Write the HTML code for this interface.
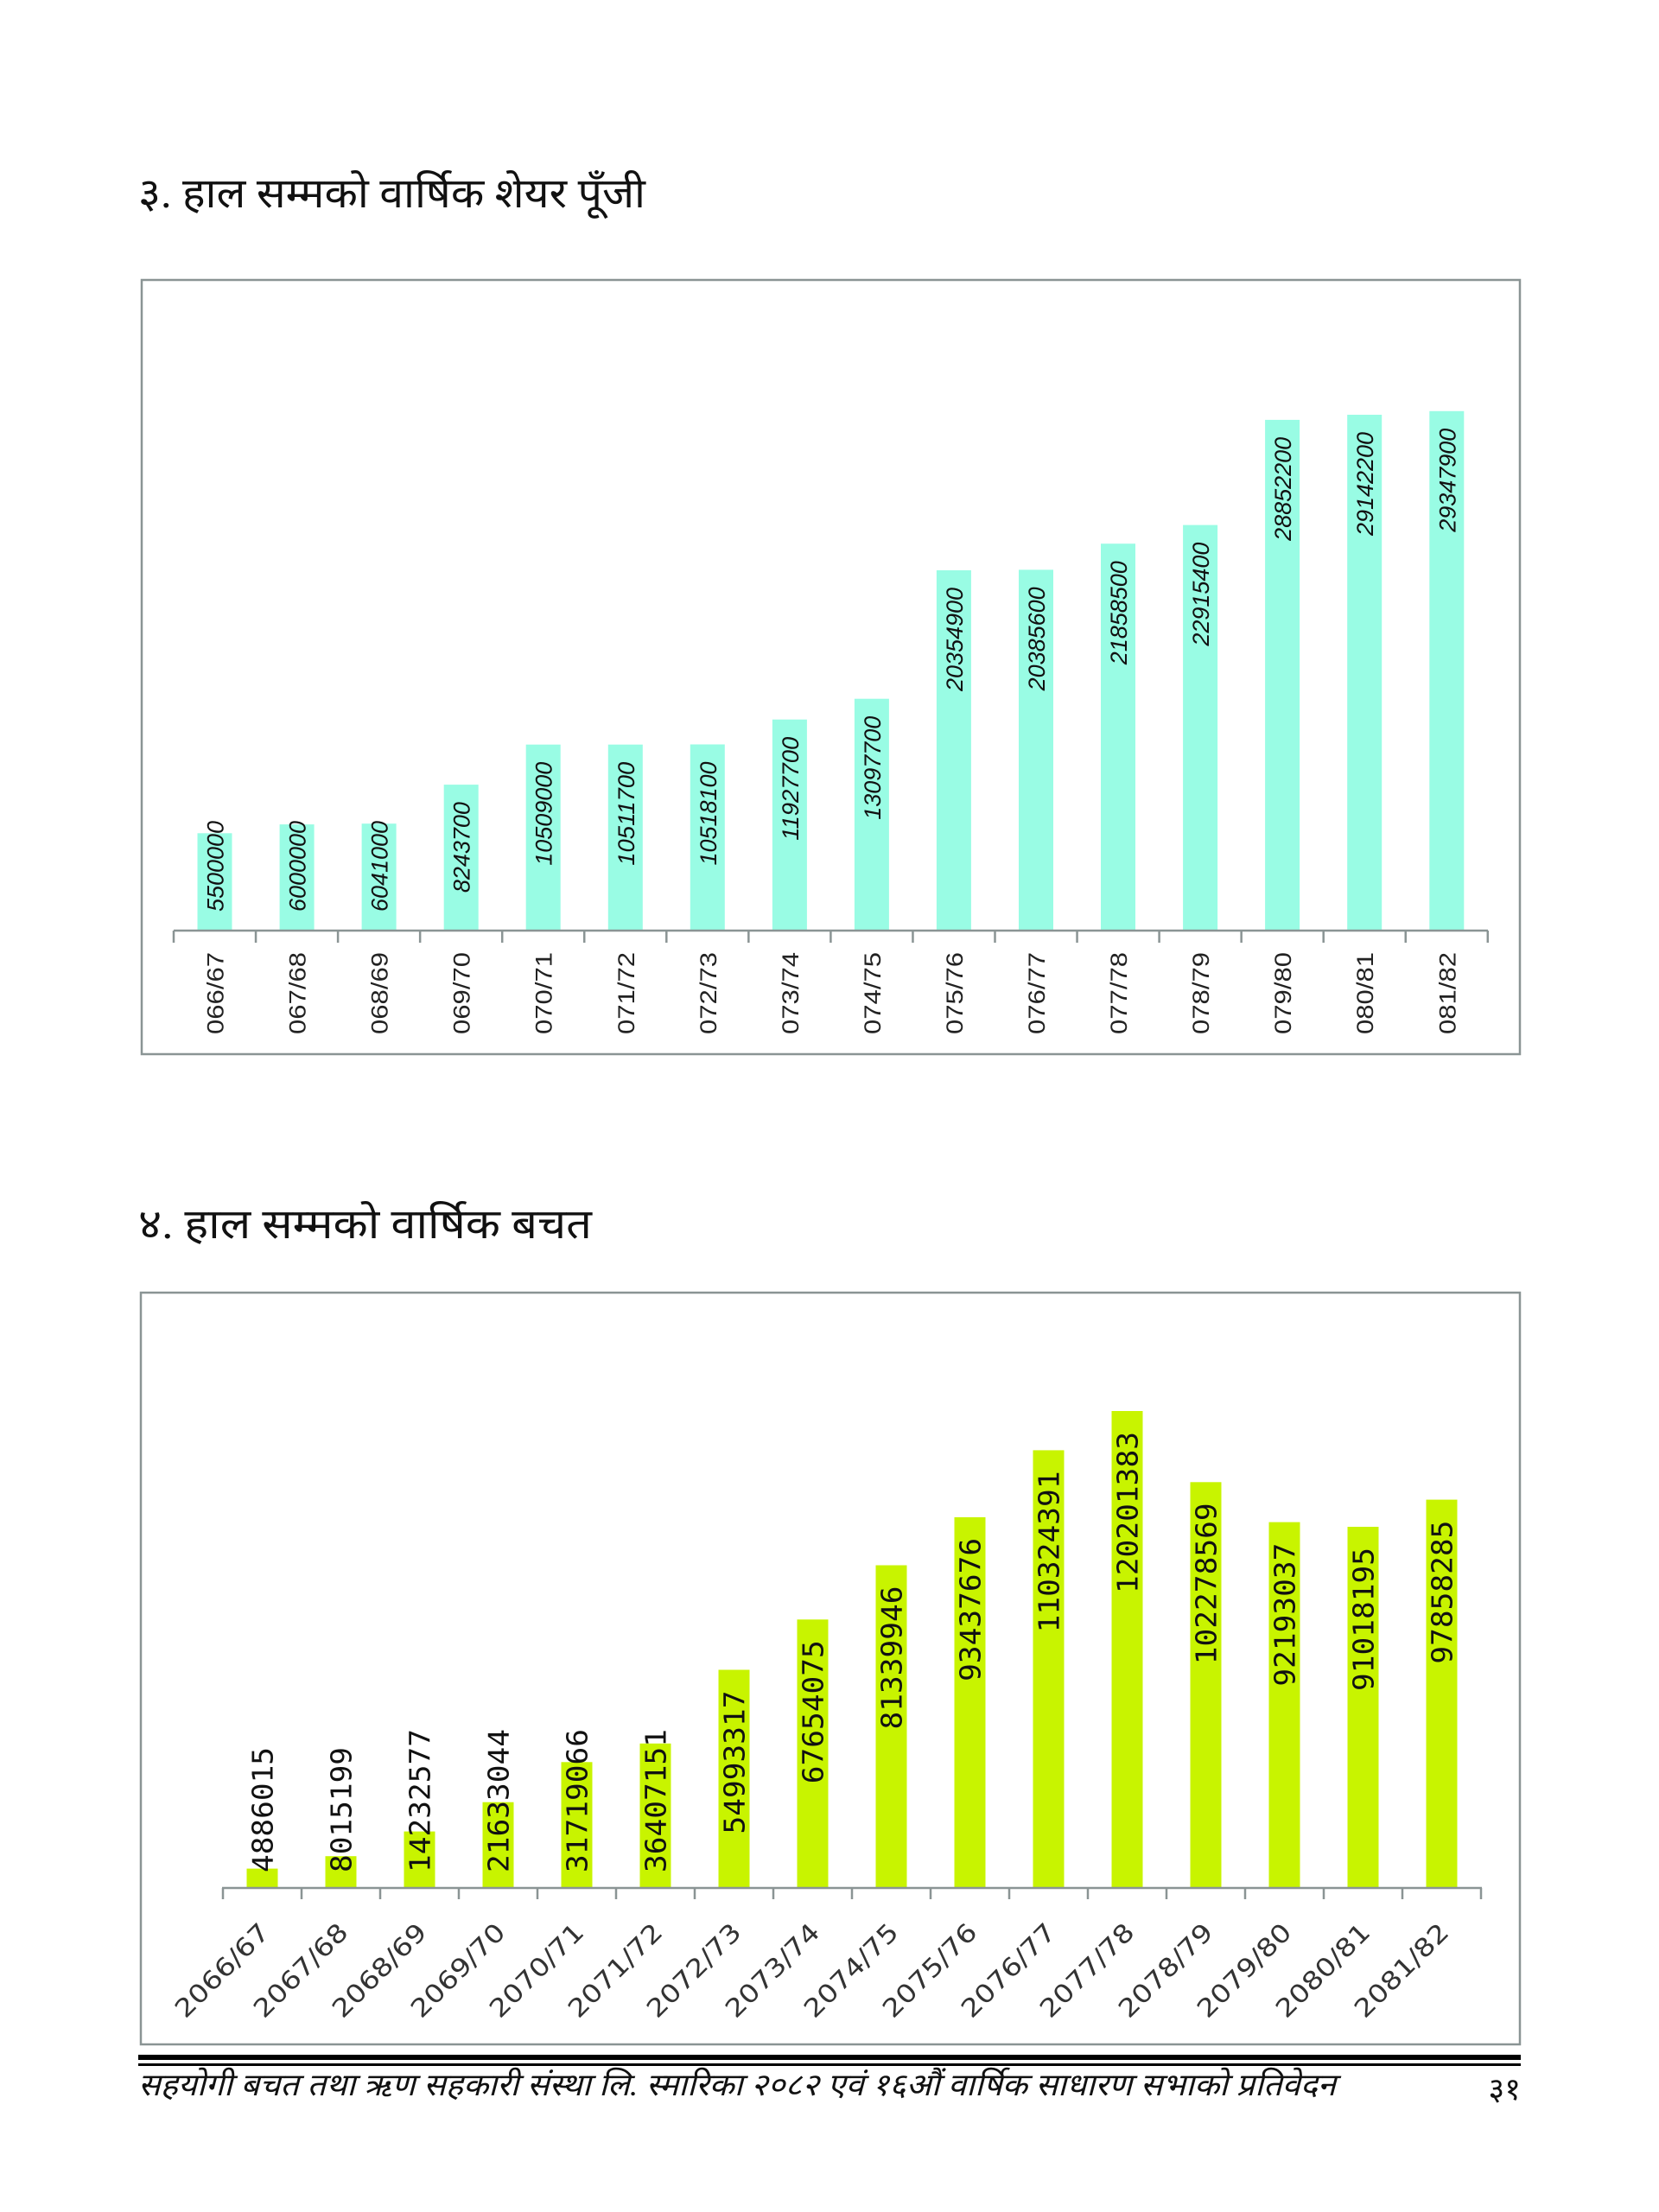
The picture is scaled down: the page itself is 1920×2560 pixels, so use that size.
<!DOCTYPE html>
<html><head><meta charset="utf-8">
<style>
html,body{margin:0;padding:0;background:#fff;}
svg{display:block;}
.t{font-family:"Liberation Serif","Noto Sans CJK SC",serif;fill:#111;}
.v1{font-family:"Liberation Sans",sans-serif;font-size:27px;fill:#111;font-style:italic;}
.c1{font-family:"Liberation Sans",sans-serif;font-size:27px;fill:#222;}
.v2{font-family:"DejaVu Sans Mono","Liberation Mono",monospace;font-size:33px;fill:#111;}
.c2{font-family:"DejaVu Sans",sans-serif;font-size:29px;fill:#333;}
</style></head><body>
<svg width="1920" height="2560" viewBox="0 0 1920 2560" xmlns="http://www.w3.org/2000/svg">
<rect width="1920" height="2560" fill="#fff"/>
<text class="t" x="160" y="240" font-size="48" textLength="587" lengthAdjust="spacingAndGlyphs">३. हाल सम्मको वार्षिक शेयर पूँजी</text>
<rect x="164" y="324" width="1595" height="896" fill="none" stroke="#8a9494" stroke-width="2.5"/>
<g fill="#99fce4">
<rect x="228.5" y="964.3" width="40" height="112.7"/>
<rect x="323.6" y="954.1" width="40" height="122.9"/>
<rect x="418.6" y="953.2" width="40" height="123.8"/>
<rect x="513.7" y="908.1" width="40" height="168.9"/>
<rect x="608.7" y="861.7" width="40" height="215.3"/>
<rect x="703.8" y="861.7" width="40" height="215.3"/>
<rect x="798.8" y="861.5" width="40" height="215.5"/>
<rect x="893.9" y="832.7" width="40" height="244.3"/>
<rect x="988.9" y="808.7" width="40" height="268.3"/>
<rect x="1083.9" y="660" width="40" height="417"/>
<rect x="1179" y="659.4" width="40" height="417.6"/>
<rect x="1274" y="629.2" width="40" height="447.8"/>
<rect x="1369.1" y="607.6" width="40" height="469.4"/>
<rect x="1464.1" y="485.9" width="40" height="591.1"/>
<rect x="1559.2" y="480" width="40" height="597"/>
<rect x="1654.3" y="475.8" width="40" height="601.2"/>
</g>
<g stroke="#8a9494" stroke-width="2.5">
<line x1="201" y1="1077" x2="1722" y2="1077"/>
<line x1="201" y1="1077" x2="201" y2="1091"/><line x1="296.05" y1="1077" x2="296.05" y2="1091"/><line x1="391.1" y1="1077" x2="391.1" y2="1091"/><line x1="486.15" y1="1077" x2="486.15" y2="1091"/><line x1="581.2" y1="1077" x2="581.2" y2="1091"/><line x1="676.25" y1="1077" x2="676.25" y2="1091"/><line x1="771.3" y1="1077" x2="771.3" y2="1091"/><line x1="866.35" y1="1077" x2="866.35" y2="1091"/><line x1="961.4" y1="1077" x2="961.4" y2="1091"/><line x1="1056.45" y1="1077" x2="1056.45" y2="1091"/><line x1="1151.5" y1="1077" x2="1151.5" y2="1091"/><line x1="1246.55" y1="1077" x2="1246.55" y2="1091"/><line x1="1341.6" y1="1077" x2="1341.6" y2="1091"/><line x1="1436.65" y1="1077" x2="1436.65" y2="1091"/><line x1="1531.7" y1="1077" x2="1531.7" y2="1091"/><line x1="1626.75" y1="1077" x2="1626.75" y2="1091"/><line x1="1721.8" y1="1077" x2="1721.8" y2="1091"/>
</g>
<g class="v1">
<text transform="translate(258.5,1055) rotate(-90)" textLength="105" lengthAdjust="spacingAndGlyphs">5500000</text>
<text transform="translate(353.6,1055) rotate(-90)" textLength="105" lengthAdjust="spacingAndGlyphs">6000000</text>
<text transform="translate(448.6,1055) rotate(-90)" textLength="105" lengthAdjust="spacingAndGlyphs">6041000</text>
<text transform="translate(543.7,928.1) rotate(-90)" text-anchor="end" textLength="105" lengthAdjust="spacingAndGlyphs">8243700</text>
<text transform="translate(638.7,881.7) rotate(-90)" text-anchor="end" textLength="120" lengthAdjust="spacingAndGlyphs">10509000</text>
<text transform="translate(733.8,881.7) rotate(-90)" text-anchor="end" textLength="120" lengthAdjust="spacingAndGlyphs">10511700</text>
<text transform="translate(828.8,881.5) rotate(-90)" text-anchor="end" textLength="120" lengthAdjust="spacingAndGlyphs">10518100</text>
<text transform="translate(923.9,852.7) rotate(-90)" text-anchor="end" textLength="120" lengthAdjust="spacingAndGlyphs">11927700</text>
<text transform="translate(1018.9,828.7) rotate(-90)" text-anchor="end" textLength="120" lengthAdjust="spacingAndGlyphs">13097700</text>
<text transform="translate(1113.9,680) rotate(-90)" text-anchor="end" textLength="120" lengthAdjust="spacingAndGlyphs">20354900</text>
<text transform="translate(1209,679.4) rotate(-90)" text-anchor="end" textLength="120" lengthAdjust="spacingAndGlyphs">20385600</text>
<text transform="translate(1304,649.2) rotate(-90)" text-anchor="end" textLength="120" lengthAdjust="spacingAndGlyphs">21858500</text>
<text transform="translate(1399.1,627.6) rotate(-90)" text-anchor="end" textLength="120" lengthAdjust="spacingAndGlyphs">22915400</text>
<text transform="translate(1494.1,505.9) rotate(-90)" text-anchor="end" textLength="120" lengthAdjust="spacingAndGlyphs">28852200</text>
<text transform="translate(1589.2,500) rotate(-90)" text-anchor="end" textLength="120" lengthAdjust="spacingAndGlyphs">29142200</text>
<text transform="translate(1684.3,495.8) rotate(-90)" text-anchor="end" textLength="120" lengthAdjust="spacingAndGlyphs">29347900</text>
</g>
<g class="c1">
<text transform="translate(258.5,1102) rotate(-90)" text-anchor="end" textLength="95" lengthAdjust="spacingAndGlyphs">066/67</text>
<text transform="translate(353.6,1102) rotate(-90)" text-anchor="end" textLength="95" lengthAdjust="spacingAndGlyphs">067/68</text>
<text transform="translate(448.6,1102) rotate(-90)" text-anchor="end" textLength="95" lengthAdjust="spacingAndGlyphs">068/69</text>
<text transform="translate(543.7,1102) rotate(-90)" text-anchor="end" textLength="95" lengthAdjust="spacingAndGlyphs">069/70</text>
<text transform="translate(638.7,1102) rotate(-90)" text-anchor="end" textLength="95" lengthAdjust="spacingAndGlyphs">070/71</text>
<text transform="translate(733.8,1102) rotate(-90)" text-anchor="end" textLength="95" lengthAdjust="spacingAndGlyphs">071/72</text>
<text transform="translate(828.8,1102) rotate(-90)" text-anchor="end" textLength="95" lengthAdjust="spacingAndGlyphs">072/73</text>
<text transform="translate(923.9,1102) rotate(-90)" text-anchor="end" textLength="95" lengthAdjust="spacingAndGlyphs">073/74</text>
<text transform="translate(1018.9,1102) rotate(-90)" text-anchor="end" textLength="95" lengthAdjust="spacingAndGlyphs">074/75</text>
<text transform="translate(1113.9,1102) rotate(-90)" text-anchor="end" textLength="95" lengthAdjust="spacingAndGlyphs">075/76</text>
<text transform="translate(1209,1102) rotate(-90)" text-anchor="end" textLength="95" lengthAdjust="spacingAndGlyphs">076/77</text>
<text transform="translate(1304,1102) rotate(-90)" text-anchor="end" textLength="95" lengthAdjust="spacingAndGlyphs">077/78</text>
<text transform="translate(1399.1,1102) rotate(-90)" text-anchor="end" textLength="95" lengthAdjust="spacingAndGlyphs">078/79</text>
<text transform="translate(1494.1,1102) rotate(-90)" text-anchor="end" textLength="95" lengthAdjust="spacingAndGlyphs">079/80</text>
<text transform="translate(1589.2,1102) rotate(-90)" text-anchor="end" textLength="95" lengthAdjust="spacingAndGlyphs">080/81</text>
<text transform="translate(1684.3,1102) rotate(-90)" text-anchor="end" textLength="95" lengthAdjust="spacingAndGlyphs">081/82</text>
</g>

<text class="t" x="160" y="1433" font-size="48" textLength="525" lengthAdjust="spacingAndGlyphs">४. हाल सम्मको वार्षिक बचत</text>
<rect x="163" y="1496" width="1596" height="870" fill="none" stroke="#8a9494" stroke-width="2.5"/>
<g fill="#c8f400">
<rect x="285.5" y="2162.6" width="36" height="22.4"/>
<rect x="376.5" y="2148.2" width="36" height="36.8"/>
<rect x="467.5" y="2119.6" width="36" height="65.4"/>
<rect x="558.5" y="2085.7" width="36" height="99.3"/>
<rect x="649.5" y="2039.3" width="36" height="145.7"/>
<rect x="740.5" y="2017.8" width="36" height="167.2"/>
<rect x="831.5" y="1932.5" width="36" height="252.5"/>
<rect x="922.5" y="1874.3" width="36" height="310.7"/>
<rect x="1013.5" y="1811.5" width="36" height="373.5"/>
<rect x="1104.5" y="1755.9" width="36" height="429.1"/>
<rect x="1195.5" y="1678.4" width="36" height="506.6"/>
<rect x="1286.5" y="1633" width="36" height="552"/>
<rect x="1377.5" y="1715.3" width="36" height="469.7"/>
<rect x="1468.5" y="1761.6" width="36" height="423.4"/>
<rect x="1559.5" y="1767" width="36" height="418"/>
<rect x="1650.5" y="1735.6" width="36" height="449.4"/>
</g>
<g stroke="#8a9494" stroke-width="2.5">
<line x1="257" y1="2185" x2="1715" y2="2185"/>
<line x1="258" y1="2185" x2="258" y2="2198"/><line x1="349" y1="2185" x2="349" y2="2198"/><line x1="440" y1="2185" x2="440" y2="2198"/><line x1="531" y1="2185" x2="531" y2="2198"/><line x1="622" y1="2185" x2="622" y2="2198"/><line x1="713" y1="2185" x2="713" y2="2198"/><line x1="804" y1="2185" x2="804" y2="2198"/><line x1="895" y1="2185" x2="895" y2="2198"/><line x1="986" y1="2185" x2="986" y2="2198"/><line x1="1077" y1="2185" x2="1077" y2="2198"/><line x1="1168" y1="2185" x2="1168" y2="2198"/><line x1="1259" y1="2185" x2="1259" y2="2198"/><line x1="1350" y1="2185" x2="1350" y2="2198"/><line x1="1441" y1="2185" x2="1441" y2="2198"/><line x1="1532" y1="2185" x2="1532" y2="2198"/><line x1="1623" y1="2185" x2="1623" y2="2198"/><line x1="1714" y1="2185" x2="1714" y2="2198"/>
</g>
<g class="v2">
<text transform="translate(315.5,2167) rotate(-90)" textLength="145" lengthAdjust="spacingAndGlyphs">4886015</text>
<text transform="translate(406.5,2167) rotate(-90)" textLength="145" lengthAdjust="spacingAndGlyphs">8015199</text>
<text transform="translate(497.5,2167) rotate(-90)" textLength="166" lengthAdjust="spacingAndGlyphs">14232577</text>
<text transform="translate(588.5,2167) rotate(-90)" textLength="166" lengthAdjust="spacingAndGlyphs">21633044</text>
<text transform="translate(679.5,2167) rotate(-90)" textLength="166" lengthAdjust="spacingAndGlyphs">31719066</text>
<text transform="translate(770.5,2167) rotate(-90)" textLength="166" lengthAdjust="spacingAndGlyphs">36407151</text>
<text transform="translate(861.5,1956.5) rotate(-90)" text-anchor="end" textLength="166" lengthAdjust="spacingAndGlyphs">54993317</text>
<text transform="translate(952.5,1898.3) rotate(-90)" text-anchor="end" textLength="166" lengthAdjust="spacingAndGlyphs">67654075</text>
<text transform="translate(1043.5,1835.5) rotate(-90)" text-anchor="end" textLength="166" lengthAdjust="spacingAndGlyphs">81339946</text>
<text transform="translate(1134.5,1779.9) rotate(-90)" text-anchor="end" textLength="166" lengthAdjust="spacingAndGlyphs">93437676</text>
<text transform="translate(1225.5,1702.4) rotate(-90)" text-anchor="end" textLength="187" lengthAdjust="spacingAndGlyphs">110324391</text>
<text transform="translate(1316.5,1657) rotate(-90)" text-anchor="end" textLength="187" lengthAdjust="spacingAndGlyphs">120201383</text>
<text transform="translate(1407.5,1739.3) rotate(-90)" text-anchor="end" textLength="187" lengthAdjust="spacingAndGlyphs">102278569</text>
<text transform="translate(1498.5,1785.6) rotate(-90)" text-anchor="end" textLength="166" lengthAdjust="spacingAndGlyphs">92193037</text>
<text transform="translate(1589.5,1791) rotate(-90)" text-anchor="end" textLength="166" lengthAdjust="spacingAndGlyphs">91018195</text>
<text transform="translate(1680.5,1759.6) rotate(-90)" text-anchor="end" textLength="166" lengthAdjust="spacingAndGlyphs">97858285</text>
</g>
<g class="c2">
<text transform="translate(313.5,2238) rotate(-45)" text-anchor="end" textLength="140" lengthAdjust="spacingAndGlyphs">2066/67</text>
<text transform="translate(404.5,2238) rotate(-45)" text-anchor="end" textLength="140" lengthAdjust="spacingAndGlyphs">2067/68</text>
<text transform="translate(495.5,2238) rotate(-45)" text-anchor="end" textLength="140" lengthAdjust="spacingAndGlyphs">2068/69</text>
<text transform="translate(586.5,2238) rotate(-45)" text-anchor="end" textLength="140" lengthAdjust="spacingAndGlyphs">2069/70</text>
<text transform="translate(677.5,2238) rotate(-45)" text-anchor="end" textLength="140" lengthAdjust="spacingAndGlyphs">2070/71</text>
<text transform="translate(768.5,2238) rotate(-45)" text-anchor="end" textLength="140" lengthAdjust="spacingAndGlyphs">2071/72</text>
<text transform="translate(859.5,2238) rotate(-45)" text-anchor="end" textLength="140" lengthAdjust="spacingAndGlyphs">2072/73</text>
<text transform="translate(950.5,2238) rotate(-45)" text-anchor="end" textLength="140" lengthAdjust="spacingAndGlyphs">2073/74</text>
<text transform="translate(1041.5,2238) rotate(-45)" text-anchor="end" textLength="140" lengthAdjust="spacingAndGlyphs">2074/75</text>
<text transform="translate(1132.5,2238) rotate(-45)" text-anchor="end" textLength="140" lengthAdjust="spacingAndGlyphs">2075/76</text>
<text transform="translate(1223.5,2238) rotate(-45)" text-anchor="end" textLength="140" lengthAdjust="spacingAndGlyphs">2076/77</text>
<text transform="translate(1314.5,2238) rotate(-45)" text-anchor="end" textLength="140" lengthAdjust="spacingAndGlyphs">2077/78</text>
<text transform="translate(1405.5,2238) rotate(-45)" text-anchor="end" textLength="140" lengthAdjust="spacingAndGlyphs">2078/79</text>
<text transform="translate(1496.5,2238) rotate(-45)" text-anchor="end" textLength="140" lengthAdjust="spacingAndGlyphs">2079/80</text>
<text transform="translate(1587.5,2238) rotate(-45)" text-anchor="end" textLength="140" lengthAdjust="spacingAndGlyphs">2080/81</text>
<text transform="translate(1678.5,2238) rotate(-45)" text-anchor="end" textLength="140" lengthAdjust="spacingAndGlyphs">2081/82</text>
</g>

<rect x="160" y="2378" width="1600" height="6" fill="#000"/>
<rect x="160" y="2388" width="1600" height="3" fill="#000"/>
<text class="t" x="160" y="2425" font-size="36" font-style="italic" textLength="1386" lengthAdjust="spacingAndGlyphs">सहयोगी बचत तथा ऋण सहकारी संस्था लि. स्मारिका २०८२ एवं १६औं वार्षिक साधारण सभाको प्रतिवेदन</text>
<text class="t" x="1760" y="2430" font-size="36" text-anchor="end">३१</text>
</svg>
</body></html>
